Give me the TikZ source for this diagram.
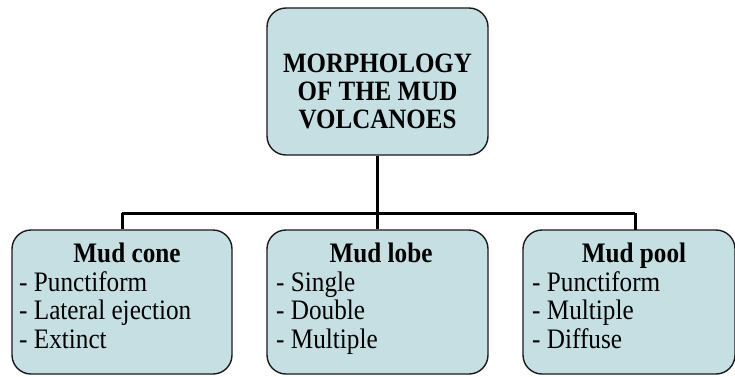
\documentclass[tikz,border=0pt]{standalone}
\usepackage{fontspec}
\usepackage{graphicx}
\setmainfont{Liberation Serif}
\definecolor{boxfill}{HTML}{C6DFE3}
\definecolor{boxline}{HTML}{1A1A1A}
\newcommand{\talltext}[1]{\scalebox{1}[1.12]{#1}}
\begin{document}
\begin{tikzpicture}[x=1pt,y=-1pt,
  box/.style={draw=boxline,line width=1.4pt,fill=boxfill,rounded corners=19pt,inner sep=0pt},
  conn/.style={line width=3pt,draw=black},
  title/.style={font=\fontsize{25}{28.5}\selectfont\bfseries,align=center,inner sep=0pt,anchor=base},
  head/.style={font=\fontsize{25.2}{28.5}\selectfont\bfseries,inner sep=0pt,anchor=base},
  item/.style={font=\fontsize{25.2}{28.5}\selectfont,inner sep=0pt,anchor=base west}]
\useasboundingbox[fill=white] (0,0) rectangle (735,376);
% boxes
\node[box,minimum width=221pt,minimum height=147pt] (top) at (377.5,81.5) {};
\node[box,minimum width=220pt,minimum height=144pt] (cone) at (122,302) {};
\node[box,minimum width=221pt,minimum height=144pt] (lobe) at (377.5,302) {};
\node[box,minimum width=212pt,minimum height=144pt] (pool) at (629,302) {};
% title
\node[title] (t1) at (377.5,72) {\talltext{MORPHOLOGY}};
\node[title] (t2) at (377.5,100) {\talltext{OF THE MUD}};
\node[title] (t3) at (377.5,128) {\talltext{VOLCANOES}};
% connectors
\coordinate (hub) at (377.5,213);
\coordinate (hl) at (122,213);
\coordinate (hr) at (635,213);
\coordinate (pooltop) at (635,230);
\draw[conn] (top.south) -- (hub);
\draw[conn] (hl) -- (hr);
\draw[conn] (hl) -- (cone.north);
\draw[conn] (hub) -- (lobe.north);
\draw[conn] (hr) -- (pooltop);
% Mud cone
\node[head] (h1) at (127,262) {\talltext{Mud cone}};
\node[item] (c1) at (19,291) {\talltext{- Punctiform}};
\node[item] (c2) at (19,319.5) {\talltext{- Lateral ejection}};
\node[item] (c3) at (19,348) {\talltext{- Extinct}};
% Mud lobe
\node[head] (h2) at (381,262) {\talltext{Mud lobe}};
\node[item] (l1) at (276,291) {\talltext{- Single}};
\node[item] (l2) at (276,319.5) {\talltext{- Double}};
\node[item] (l3) at (276,348) {\talltext{- Multiple}};
% Mud pool
\node[head] (h3) at (634,262) {\talltext{Mud pool}};
\node[item] (p1) at (532,291) {\talltext{- Punctiform}};
\node[item] (p2) at (532,319.5) {\talltext{- Multiple}};
\node[item] (p3) at (532,348) {\talltext{- Diffuse}};
\end{tikzpicture}
\end{document}
